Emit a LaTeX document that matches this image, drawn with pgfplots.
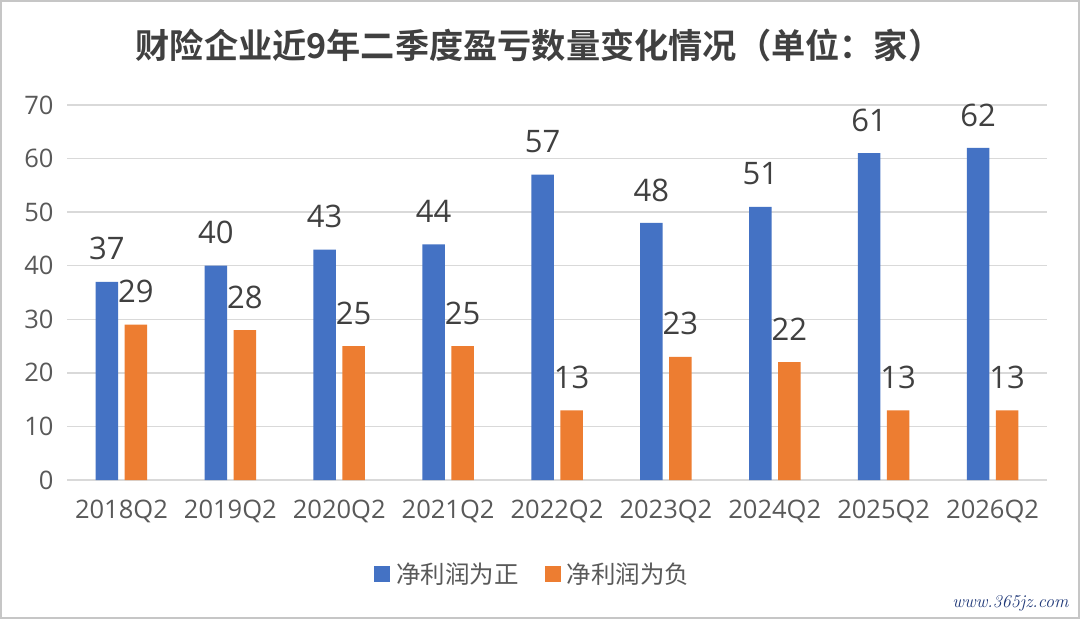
\documentclass[border=0pt]{standalone}
\usepackage{pgfplots}
\pgfplotsset{compat=1.18}
\usepackage{fontspec}
\setmainfont{Open Sans}
\newfontfamily\cjk{Noto Sans CJK SC}
\newfontfamily\cjkb{Noto Sans CJK SC Bold}
\definecolor{cblue}{HTML}{4472C4}
\definecolor{corange}{HTML}{ED7D31}
\definecolor{txt}{HTML}{595959}
\definecolor{ttl}{HTML}{404040}
\definecolor{grd}{HTML}{D9D9D9}
\begin{document}
\begin{tikzpicture}[x=1pt,y=1pt]
\fill[white] (0,0) rectangle (1080,619);
\draw[gray!45,line width=2pt] (1,1) rectangle (1079,618);
\node[font=\cjkb\fontsize{34.2}{37}\selectfont, text=ttl] at (539,574) {财险企业近9年二季度盈亏数量变化情况（单位：家）};
\begin{axis}[
  at={(67pt,139pt)}, anchor=south west,
  scale only axis, width=980pt, height=375pt,
  xmin=-0.5, xmax=8.5, ymin=0, ymax=70,
  ytick={0,10,...,70},
  xtick={0,...,8},
  xticklabels={2018Q2,2019Q2,2020Q2,2021Q2,2022Q2,2023Q2,2024Q2,2025Q2,2026Q2},
  ymajorgrids, grid style={grd, line width=1.5pt},
  axis line style={draw=none},
  major tick style={draw=none},
  /pgf/number format/assume math mode=true,
  ticklabel style={font=\fontsize{25.5}{28}\selectfont, text=txt},
  yticklabel style={xshift=-10pt},
  xticklabel style={yshift=-12pt},
  ybar, bar width=22.5pt,
  nodes near coords,
  every node near coord/.append style={font=\fontsize{31}{34}\selectfont, text=ttl, yshift=18pt},
  legend style={at={(0.4755,-0.25)}, anchor=center, draw=none, legend columns=2,
    font=\cjk\fontsize{24.5}{28}\selectfont, text=txt,
    /tikz/every odd column/.append style={column sep=4pt},
    /tikz/every even column/.append style={column sep=24pt}},
  legend image code/.code={\fill[#1] (0pt,-8pt) rectangle (16pt,8pt);},
]
\addplot[fill=cblue, draw=none, bar shift=-14.5pt] coordinates {
(0,37) (1,40) (2,43) (3,44) (4,57) (5,48) (6,51) (7,61) (8,62)};
\addlegendentry{净利润为正}
\addplot[fill=corange, draw=none, bar shift=14.5pt] coordinates {
(0,29) (1,28) (2,25) (3,25) (4,13) (5,23) (6,22) (7,13) (8,13)};
\addlegendentry{净利润为负}
\end{axis}
\node[font=\fontfamily{lmr}\selectfont\itshape\fontsize{18}{20}\selectfont, text={rgb,255:red,31;green,56;blue,120}, anchor=east] at (1072,16) {www.365jz.com};
\end{tikzpicture}
\end{document}
